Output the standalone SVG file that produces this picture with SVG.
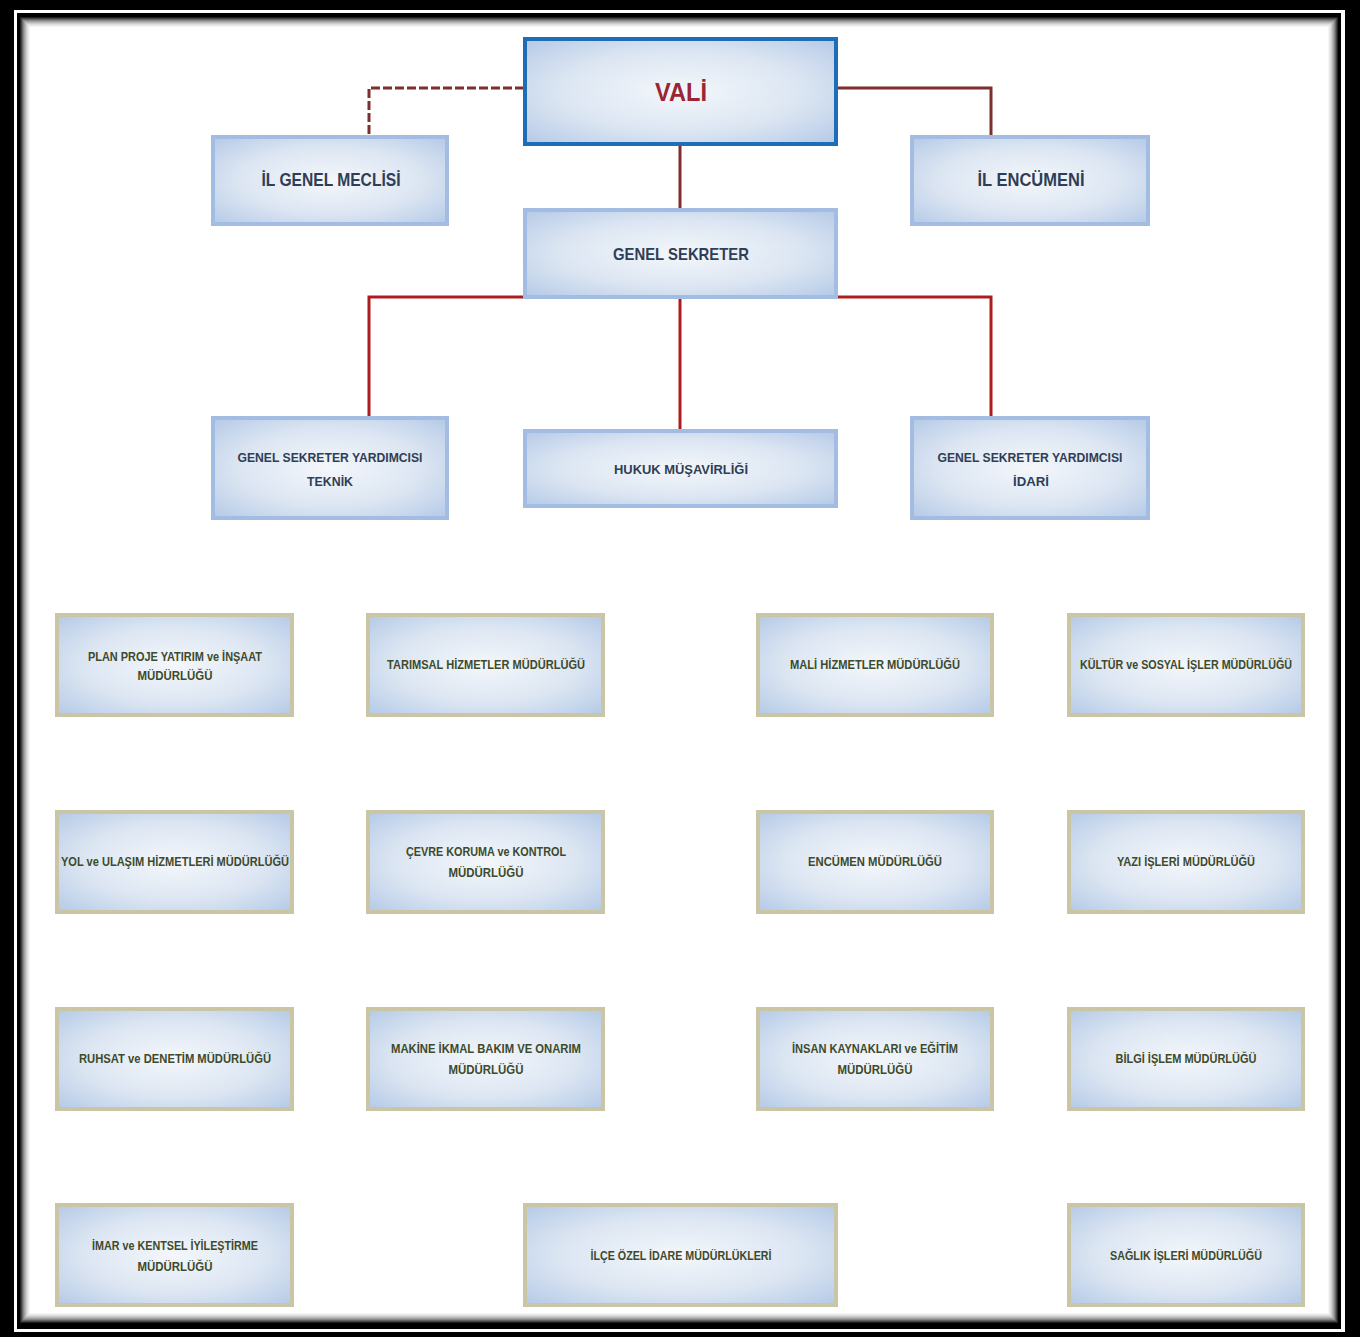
<svg xmlns="http://www.w3.org/2000/svg" width="1360" height="1337" viewBox="0 0 1360 1337">
<defs>
<radialGradient id="fill" cx="0.5" cy="0.5" r="0.72">
<stop offset="0" stop-color="#f4f7fb"/>
<stop offset="0.55" stop-color="#dbe5f2"/>
<stop offset="1" stop-color="#b2c8e6"/>
</radialGradient>
<style>
.blue{fill:url(#fill);stroke:#a2bde1;stroke-width:4}
.vali{fill:url(#fill);stroke:#1f6db6;stroke-width:4}
.tan{fill:url(#fill);stroke:#c9c5a5;stroke-width:4}
.bt{font-family:"Liberation Sans",Arial,sans-serif;font-weight:bold;fill:#2f3e56;text-anchor:middle}
.tt{font-family:"Liberation Sans",Arial,sans-serif;font-weight:bold;fill:#3d4a2c;text-anchor:middle;font-size:12.5px}
.vt{font-family:"Liberation Sans",Arial,sans-serif;font-weight:bold;fill:#9a2534;text-anchor:middle;font-size:26px}
.mar{fill:none;stroke:#7f2e2e;stroke-width:3}
.red{fill:none;stroke:#ad1d1f;stroke-width:3}
.sh{fill:none;stroke-width:1}
</style>
</defs>
<rect x="0" y="0" width="1360" height="1337" fill="#000"/>
<rect x="14" y="10" width="1331" height="1322" fill="#fff"/>
<rect x="17" y="13" width="1324" height="1316" fill="#000"/>
<rect x="20" y="17" width="1318" height="1306" fill="#fff"/>
<g id="frame-shadow">
<rect class="sh" x="20.5" y="17.5" width="1317" height="1305" stroke="#222"/>
<rect class="sh" x="21.5" y="18.5" width="1315" height="1303" stroke="#444"/>
<rect class="sh" x="22.5" y="19.5" width="1313" height="1301" stroke="#666"/>
<rect class="sh" x="23.5" y="20.5" width="1311" height="1299" stroke="#888"/>
<rect class="sh" x="24.5" y="21.5" width="1309" height="1297" stroke="#a0a0a0"/>
<rect class="sh" x="25.5" y="22.5" width="1307" height="1295" stroke="#b8b8b8"/>
<rect class="sh" x="26.5" y="23.5" width="1305" height="1293" stroke="#cccccc"/>
<rect class="sh" x="27.5" y="24.5" width="1303" height="1291" stroke="#dddddd"/>
<rect class="sh" x="28.5" y="25.5" width="1301" height="1289" stroke="#eaeaea"/>
<rect class="sh" x="29.5" y="26.5" width="1299" height="1287" stroke="#f4f4f4"/>
</g>
<g id="connectors">
<path class="mar" d="M524 88 H369 V136" stroke-dasharray="9,3"/>
<path class="mar" d="M837 88 H991 V136"/>
<path class="mar" d="M680 145 V209"/>
<path class="red" d="M524 297 H369 V417"/>
<path class="red" d="M680 298 V430"/>
<path class="red" d="M837 297 H991 V417"/>
</g>
<g id="vali"><rect class="vali" x="525" y="39" width="311" height="105"/><text class="vt" x="681" y="101" textLength="52" lengthAdjust="spacingAndGlyphs">VALİ</text></g>
<g id="il-genel-meclisi"><rect class="blue" x="213" y="137" width="234" height="87"/><text class="bt" x="331" y="186" font-size="18" textLength="139" lengthAdjust="spacingAndGlyphs">İL GENEL MECLİSİ</text></g>
<g id="il-encumeni"><rect class="blue" x="912" y="137" width="236" height="87"/><text class="bt" x="1031" y="186" font-size="18" textLength="107" lengthAdjust="spacingAndGlyphs">İL ENCÜMENİ</text></g>
<g id="genel-sekreter"><rect class="blue" x="525" y="210" width="311" height="87"/><text class="bt" x="681" y="260" font-size="17" textLength="136" lengthAdjust="spacingAndGlyphs">GENEL SEKRETER</text></g>
<g id="gsy-teknik"><rect class="blue" x="213" y="418" width="234" height="100"/><text class="bt" x="330" y="462" font-size="13.5" textLength="185" lengthAdjust="spacingAndGlyphs">GENEL SEKRETER YARDIMCISI</text><text class="bt" x="330" y="486" font-size="13.5" textLength="46" lengthAdjust="spacingAndGlyphs">TEKNİK</text></g>
<g id="hukuk"><rect class="blue" x="525" y="431" width="311" height="75"/><text class="bt" x="681" y="474" font-size="13.5" textLength="134" lengthAdjust="spacingAndGlyphs">HUKUK MÜŞAVİRLİĞİ</text></g>
<g id="gsy-idari"><rect class="blue" x="912" y="418" width="236" height="100"/><text class="bt" x="1030" y="462" font-size="13.5" textLength="185" lengthAdjust="spacingAndGlyphs">GENEL SEKRETER YARDIMCISI</text><text class="bt" x="1031" y="486" font-size="13.5" textLength="36" lengthAdjust="spacingAndGlyphs">İDARİ</text></g>
<g id="plan-proje"><rect class="tan" x="57" y="615" width="235" height="100"/><text class="tt" x="175" y="661" textLength="174" lengthAdjust="spacingAndGlyphs">PLAN PROJE YATIRIM ve İNŞAAT</text><text class="tt" x="175" y="680" textLength="75" lengthAdjust="spacingAndGlyphs">MÜDÜRLÜĞÜ</text></g>
<g id="tarimsal"><rect class="tan" x="368" y="615" width="235" height="100"/><text class="tt" x="486" y="669" textLength="198" lengthAdjust="spacingAndGlyphs">TARIMSAL HİZMETLER MÜDÜRLÜĞÜ</text></g>
<g id="mali"><rect class="tan" x="758" y="615" width="234" height="100"/><text class="tt" x="875" y="669" textLength="170" lengthAdjust="spacingAndGlyphs">MALİ HİZMETLER MÜDÜRLÜĞÜ</text></g>
<g id="kultur"><rect class="tan" x="1069" y="615" width="234" height="100"/><text class="tt" x="1186" y="669" textLength="212" lengthAdjust="spacingAndGlyphs">KÜLTÜR ve SOSYAL İŞLER MÜDÜRLÜĞÜ</text></g>
<g id="yol"><rect class="tan" x="57" y="812" width="235" height="100"/><text class="tt" x="175" y="866" textLength="228" lengthAdjust="spacingAndGlyphs">YOL ve ULAŞIM HİZMETLERİ MÜDÜRLÜĞÜ</text></g>
<g id="cevre"><rect class="tan" x="368" y="812" width="235" height="100"/><text class="tt" x="486" y="856" textLength="160" lengthAdjust="spacingAndGlyphs">ÇEVRE KORUMA ve KONTROL</text><text class="tt" x="486" y="877" textLength="75" lengthAdjust="spacingAndGlyphs">MÜDÜRLÜĞÜ</text></g>
<g id="encumen"><rect class="tan" x="758" y="812" width="234" height="100"/><text class="tt" x="875" y="866" textLength="134" lengthAdjust="spacingAndGlyphs">ENCÜMEN MÜDÜRLÜĞÜ</text></g>
<g id="yazi"><rect class="tan" x="1069" y="812" width="234" height="100"/><text class="tt" x="1186" y="866" textLength="138" lengthAdjust="spacingAndGlyphs">YAZI İŞLERİ MÜDÜRLÜĞÜ</text></g>
<g id="ruhsat"><rect class="tan" x="57" y="1009" width="235" height="100"/><text class="tt" x="175" y="1063" textLength="192" lengthAdjust="spacingAndGlyphs">RUHSAT ve DENETİM MÜDÜRLÜĞÜ</text></g>
<g id="makine"><rect class="tan" x="368" y="1009" width="235" height="100"/><text class="tt" x="486" y="1053" textLength="190" lengthAdjust="spacingAndGlyphs">MAKİNE İKMAL BAKIM VE ONARIM</text><text class="tt" x="486" y="1074" textLength="75" lengthAdjust="spacingAndGlyphs">MÜDÜRLÜĞÜ</text></g>
<g id="insan"><rect class="tan" x="758" y="1009" width="234" height="100"/><text class="tt" x="875" y="1053" textLength="166" lengthAdjust="spacingAndGlyphs">İNSAN KAYNAKLARI ve EĞİTİM</text><text class="tt" x="875" y="1074" textLength="75" lengthAdjust="spacingAndGlyphs">MÜDÜRLÜĞÜ</text></g>
<g id="bilgi"><rect class="tan" x="1069" y="1009" width="234" height="100"/><text class="tt" x="1186" y="1063" textLength="141" lengthAdjust="spacingAndGlyphs">BİLGİ İŞLEM MÜDÜRLÜĞÜ</text></g>
<g id="imar"><rect class="tan" x="57" y="1205" width="235" height="100"/><text class="tt" x="175" y="1250" textLength="166" lengthAdjust="spacingAndGlyphs">İMAR ve KENTSEL İYİLEŞTİRME</text><text class="tt" x="175" y="1271" textLength="75" lengthAdjust="spacingAndGlyphs">MÜDÜRLÜĞÜ</text></g>
<g id="ilce"><rect class="tan" x="525" y="1205" width="311" height="100"/><text class="tt" x="681" y="1260" textLength="181" lengthAdjust="spacingAndGlyphs">İLÇE ÖZEL İDARE MÜDÜRLÜKLERİ</text></g>
<g id="saglik"><rect class="tan" x="1069" y="1205" width="234" height="100"/><text class="tt" x="1186" y="1260" textLength="152" lengthAdjust="spacingAndGlyphs">SAĞLIK İŞLERİ MÜDÜRLÜĞÜ</text></g>
</svg>
